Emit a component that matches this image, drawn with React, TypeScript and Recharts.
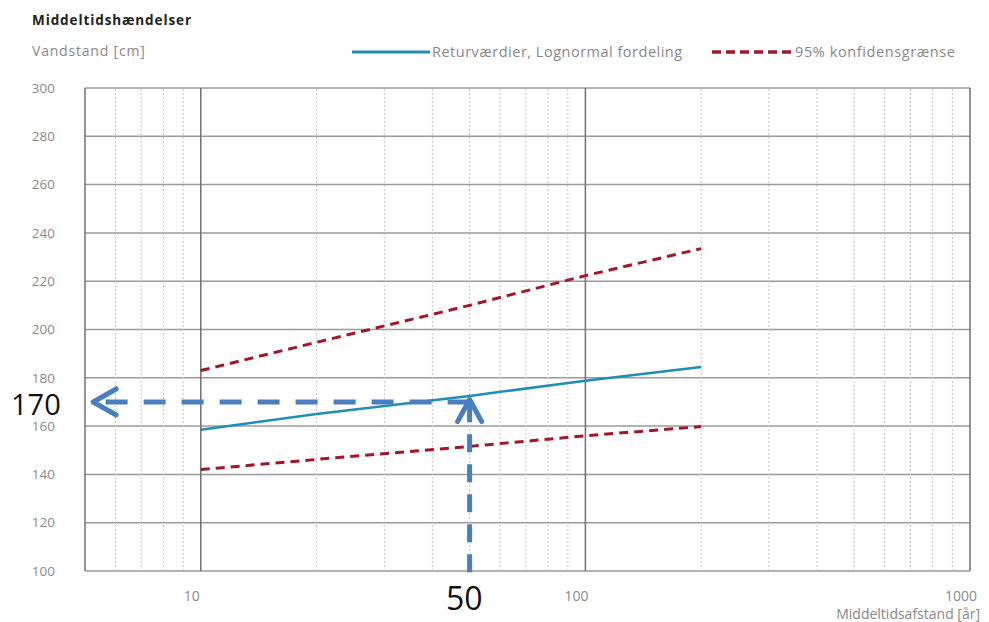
import React from 'react';
import { LineChart, Line, XAxis, YAxis, CartesianGrid, ReferenceLine, ReferenceDot } from 'recharts';

// Return periods [år] and water levels [cm]
const returnPeriods = [10, 20, 50, 100, 200];
const returnValues = [158.5, 165, 172.5, 178.8, 184.5];
const upperBound = [183, 194.7, 210, 222.3, 233.5];
const lowerBound = [142, 146.2, 151.6, 156, 159.8];

const yTicks = [100, 120, 140, 160, 180, 200, 220, 240, 260, 280, 300];
const xTicks = [10, 100, 1000];
const majorGrid = [5, 10, 100, 1000];
const minorGrid = [6, 7, 8, 9, 20, 30, 40, 50, 60, 70, 80, 90, 200, 300, 400, 500, 600, 700, 800, 900];

// Annotation: read-off point
const readPeriod = 50;
const readLevel = 170;
const arrowTipPeriod = 5.25;

const chartData = returnPeriods.map((x, i) => ({
    x,
    retur: returnValues[i],
    upper: upperBound[i],
    lower: lowerBound[i],
}));

const FONT = '"Open Sans", Lato, sans-serif';
const ANNOT = '#4a7ebf';

const LeftArrow = ({ cx, cy }: any) => (
    <path d={`M ${cx + 23} ${cy - 13} L ${cx} ${cy} L ${cx + 23} ${cy + 13}`} fill="none" stroke={ANNOT} strokeWidth={5} strokeLinecap="round" strokeLinejoin="round" />
);

const UpArrow = ({ cx, cy }: any) => (
    <path d={`M ${cx - 12} ${cy + 22} L ${cx} ${cy} L ${cx + 12} ${cy + 22}`} fill="none" stroke={ANNOT} strokeWidth={5} strokeLinecap="round" strokeLinejoin="round" />
);

export default function App() {
    return (
        <div style={{ position: 'absolute', left: 0, top: 0, width: 989, height: 622, background: '#fff', fontFamily: FONT }}>
            <div style={{ position: 'absolute', left: 32, top: 12, fontSize: 13.5, fontWeight: 700, color: '#222', lineHeight: 1.2, letterSpacing: 0.9 }}>Middeltidshændelser</div>
            <div style={{ position: 'absolute', left: 32, top: 43, fontSize: 14, color: '#888', lineHeight: 1.2, letterSpacing: 0.8 }}>Vandstand [cm]</div>

            <div style={{ position: 'absolute', left: 352, top: 43, display: 'flex', alignItems: 'center', fontSize: 14.5, color: '#888', lineHeight: 1.2, letterSpacing: 0.5 }}>
                <svg width={80} height={18}><line x1={0} y1={9} x2={78} y2={9} stroke="#1f8db4" strokeWidth={3} /></svg>
                <span>Returværdier, Lognormal fordeling</span>
            </div>
            <div style={{ position: 'absolute', left: 712, top: 43, display: 'flex', alignItems: 'center', fontSize: 14.5, color: '#888', lineHeight: 1.2, letterSpacing: 0.6 }}>
                <svg width={83} height={18}><line x1={0} y1={9} x2={80} y2={9} stroke="#a3162a" strokeWidth={3.5} strokeDasharray="9 5" /></svg>
                <span>95% konfidensgrænse</span>
            </div>

            <LineChart width={989} height={622} data={chartData} margin={{ top: 88, right: 19, left: 25, bottom: 21 }}>
                <CartesianGrid vertical={false} stroke="#9a9a9a" strokeWidth={1.5} />
                {minorGrid.map(v => (
                    <ReferenceLine key={`m${v}`} x={v} stroke="#c4c4c4" strokeDasharray="2 2" strokeWidth={1} />
                ))}
                {majorGrid.map(v => (
                    <ReferenceLine key={`M${v}`} x={v} stroke="#707070" strokeWidth={1.5} />
                ))}
                <XAxis
                    dataKey="x"
                    type="number"
                    scale="log"
                    domain={[5, 1000]}
                    allowDataOverflow
                    ticks={xTicks}
                    tickLine={false}
                    axisLine={false}
                    tickSize={0}
                    tickMargin={20}
                    height={30}
                    tick={{ fill: '#8a8a8a', fontSize: 14, fontFamily: FONT, dx: -9 }}
                />
                <YAxis
                    type="number"
                    domain={[100, 300]}
                    ticks={yTicks}
                    tickLine={false}
                    axisLine={false}
                    tickSize={0}
                    tickMargin={30}
                    width={60}
                    tick={{ fill: '#8a8a8a', fontSize: 13.5, fontFamily: FONT }}
                />
                <Line dataKey="upper" stroke="#a3162a" strokeWidth={3} strokeDasharray="9 6" dot={false} isAnimationActive={false} />
                <Line dataKey="lower" stroke="#a3162a" strokeWidth={3} strokeDasharray="9 6" dot={false} isAnimationActive={false} />
                <Line dataKey="retur" stroke="#1f8db4" strokeWidth={2.5} dot={false} isAnimationActive={false} />

                <ReferenceLine segment={[{ x: readPeriod, y: readLevel }, { x: arrowTipPeriod, y: readLevel }]} stroke={ANNOT} strokeWidth={5} strokeDasharray="22 16" ifOverflow="visible" />
                <ReferenceLine segment={[{ x: readPeriod, y: 99.5 }, { x: readPeriod, y: readLevel + 1 }]} stroke={ANNOT} strokeWidth={5} strokeDasharray="18 12" ifOverflow="visible" />
                <ReferenceDot x={arrowTipPeriod} y={readLevel} r={0} shape={LeftArrow} ifOverflow="visible" />
                <ReferenceDot x={readPeriod} y={readLevel + 1} r={0} shape={UpArrow} ifOverflow="visible" />
            </LineChart>

            <div style={{ position: 'absolute', left: 11, top: 389, fontSize: 29, lineHeight: 1, color: '#111', fontFamily: '"Open Sans", sans-serif' }}>170</div>
            <div style={{ position: 'absolute', left: 446, top: 582, fontSize: 32, lineHeight: 1, color: '#111', fontFamily: '"Open Sans", sans-serif' }}>50</div>
            <div style={{ position: 'absolute', right: 9, top: 606, fontSize: 14, color: '#888', lineHeight: 1.1 }}>Middeltidsafstand [år]</div>
        </div>
    );
}
